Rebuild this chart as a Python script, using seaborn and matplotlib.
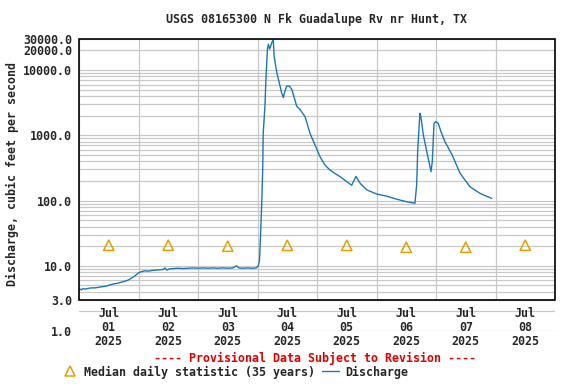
import numpy as np
import pandas as pd
import matplotlib
matplotlib.use("Agg")
import matplotlib.pyplot as plt
import matplotlib.ticker as mticker
from matplotlib.patches import Rectangle
from matplotlib.lines import Line2D
import matplotlib.transforms as mtrans
import seaborn as sns

# ---------------- data ----------------
start = pd.Timestamp("2025-07-01 00:00")
hours = [0.0, 0.4, 1.0, 1.6, 2.5, 3.5, 5.0, 6.5, 8.0, 9.5, 11.0, 12.5, 14.0, 15.5,
         17.0, 18.5, 20.0, 21.5, 22.5, 24.0, 25.0, 26.5, 28.0, 29.5, 31.0, 32.5,
         34.0, 34.7, 35.4, 36.5, 38.0, 40.0, 42.0, 44.0, 46.0, 48.0, 50.0, 52.0,
         54.0, 56.0, 58.0, 60.0, 62.0, 63.6, 64.5, 66.0, 68.0, 70.0, 71.5, 72.3,
         72.8, 73.3, 73.7, 74.1, 74.3, 75.0, 75.4, 76.0, 76.4, 76.9, 78.0, 78.4,
         78.7, 79.8, 81.1, 81.7, 82.4, 83.1, 83.8, 84.8, 85.8, 86.8, 87.8, 89.1,
         91.2, 93.2, 95.2, 97.2, 99.2, 101.2, 103.3, 105.3, 108.0, 110.0, 111.7,
         113.4, 116.1, 120.1, 124.1, 128.2, 132.2, 135.5, 136.2, 136.6, 137.5,
         137.9, 138.9, 140.3, 142.0, 142.5, 143.2, 143.9, 144.9, 146.0, 147.6,
         149.0, 150.5, 153.7, 157.7, 161.8, 166.5]
discharge = [4.2, 4.4, 4.3, 4.5, 4.4, 4.5, 4.6, 4.6, 4.7, 4.8, 4.9, 5.1, 5.3, 5.4,
             5.6, 5.8, 6.1, 6.6, 7.0, 7.8, 8.1, 8.4, 8.3, 8.5, 8.6, 8.7,
             8.8, 9.3, 8.6, 9.0, 9.1, 9.2, 9.1, 9.2, 9.3, 9.2, 9.3, 9.2,
             9.3, 9.2, 9.3, 9.2, 9.3, 10.0, 9.3, 9.2, 9.3, 9.2, 9.3, 10.0,
             12, 35, 91, 295, 1070, 2800, 7300, 20800, 24900, 21000, 27900, 28500,
             16400, 9100, 5700, 4500, 3800, 4800, 5700, 5700, 5100, 3800, 2800, 2500,
             1930, 1070, 713, 471, 351, 295, 260, 233, 195, 172, 235,
             184, 146, 126, 117, 105, 96, 91, 174, 560, 2180,
             1930, 1010, 560, 277, 395, 1530, 1620, 1530, 1140, 800,
             640, 500, 263, 163, 129, 108]
median_days = ["2025-07-01", "2025-07-02", "2025-07-03", "2025-07-04",
               "2025-07-05", "2025-07-06", "2025-07-07", "2025-07-08"]
median_values = [20.7, 20.7, 20.0, 20.6, 20.6, 19.3, 19.3, 20.7]
day_labels = ["Jul\n01\n2025", "Jul\n02\n2025", "Jul\n03\n2025", "Jul\n04\n2025",
              "Jul\n05\n2025", "Jul\n06\n2025", "Jul\n07\n2025", "Jul\n08\n2025"]
ytick_values = [1, 3, 10, 100, 1000, 10000, 20000, 30000]
ytick_labels = ["1.0", "3.0", "10.0", "100.0", "1000.0", "10000.0", "20000.0", "30000.0"]

title = "USGS 08165300 N Fk Guadalupe Rv nr Hunt, TX"
ylabel = "Discharge, cubic feet per second"
provisional = "---- Provisional Data Subject to Revision ----"
median_label = "Median daily statistic (35 years)"
line_label = "Discharge"

# ---------------- style ----------------
sns.set_style("white")
plt.rcParams["font.family"] = ["DejaVu Sans Mono"]
plt.rcParams["font.weight"] = "bold"
FS = 8.4
LINE_C = "#1a78b4"
MED_C = "#e3a000"
GRID_C = "#c8c8c8"

df = pd.DataFrame({"time": start + pd.to_timedelta(hours, unit="h"),
                   "discharge": discharge})
med = pd.DataFrame({"time": pd.to_datetime(median_days) + pd.Timedelta(hours=12),
                    "median": median_values})

W, H = 576, 384
fig = plt.figure(figsize=(W / 100, H / 100), dpi=100)
left, right = 79 / W, 555 / W
bottom, top = (H - 331.1) / H, (H - 39) / H
ax = fig.add_axes([left, bottom, right - left, top - bottom])

ax.set_yscale("log")
ax.set_ylim(1, 30000)
x0, x1 = start, start + pd.Timedelta(days=8)
ax.set_xlim(x0, x1)

# horizontal grid
ax.yaxis.set_major_locator(mticker.FixedLocator(ytick_values))
ax.yaxis.set_major_formatter(mticker.FixedFormatter(ytick_labels))
ax.yaxis.set_minor_locator(mticker.LogLocator(base=10, subs=np.arange(2, 10), numticks=50))
ax.yaxis.set_minor_formatter(mticker.NullFormatter())
ax.grid(True, axis="y", which="both", color=GRID_C, lw=0.9, zorder=0)
ax.tick_params(axis="y", which="both", length=0, pad=5, labelsize=FS)
for lab in ax.get_yticklabels():
    lab.set_fontweight("bold")
ax.set_xticks([])
for s in ax.spines.values():
    s.set_visible(False)

# vertical day grid inside frame
boundaries = pd.date_range(x0, x1, freq="D")
ax.vlines(boundaries, 3, 30000, color=GRID_C, lw=0.9, zorder=0.5)

# data
sns.lineplot(data=df, x="time", y="discharge", ax=ax, color=LINE_C, lw=1.0,
             legend=False, zorder=3)
sc = sns.scatterplot(data=med, x="time", y="median", ax=ax, marker="^", s=55,
                     legend=False, zorder=4)
coll = ax.collections[-1]
coll.set_facecolor("none")
coll.set_edgecolor(MED_C)
coll.set_linewidth(1.1)

ax.set_xlabel("")
ax.set_ylabel("")

# frame
trans = mtrans.blended_transform_factory(ax.transAxes, ax.transData)
ax.add_patch(Rectangle((0, 3), 1, 30000 - 3, transform=trans, fill=False,
                       edgecolor="black", lw=1.2, zorder=5, clip_on=False))

# day labels
for d, lab in zip(pd.to_datetime(median_days), day_labels):
    ax.annotate(lab, xy=(d + pd.Timedelta(hours=12), 3), xytext=(0, -5),
                textcoords="offset points", ha="center", va="top",
                fontsize=FS, fontweight="bold", linespacing=1.1)

fig.text(316 / W, (H - 20) / H, title, ha="center", va="center",
         fontsize=FS, fontweight="bold")
fig.text(12 / W, (H - 174) / H, ylabel, rotation=90, ha="center", va="center",
         fontsize=FS, fontweight="bold")
fig.text(315 / W, (H - 358) / H, provisional, ha="center", va="center",
         fontsize=FS, fontweight="bold", color="#dd0000")

handles = [Line2D([], [], ls="none", marker="^", ms=7.5, mfc="none", mec=MED_C, mew=1.1),
           Line2D([], [], color=LINE_C, lw=1.0)]
fig.legend(handles, [median_label, line_label], ncol=2, frameon=False,
           loc="center left", bbox_to_anchor=(61.5 / W, (H - 372) / H),
           borderpad=0, borderaxespad=0, handlelength=1.46, handletextpad=0.5,
           columnspacing=0.6, prop={"family": "DejaVu Sans Mono", "weight": "bold", "size": FS})

fig.savefig("out.png", dpi=100)
